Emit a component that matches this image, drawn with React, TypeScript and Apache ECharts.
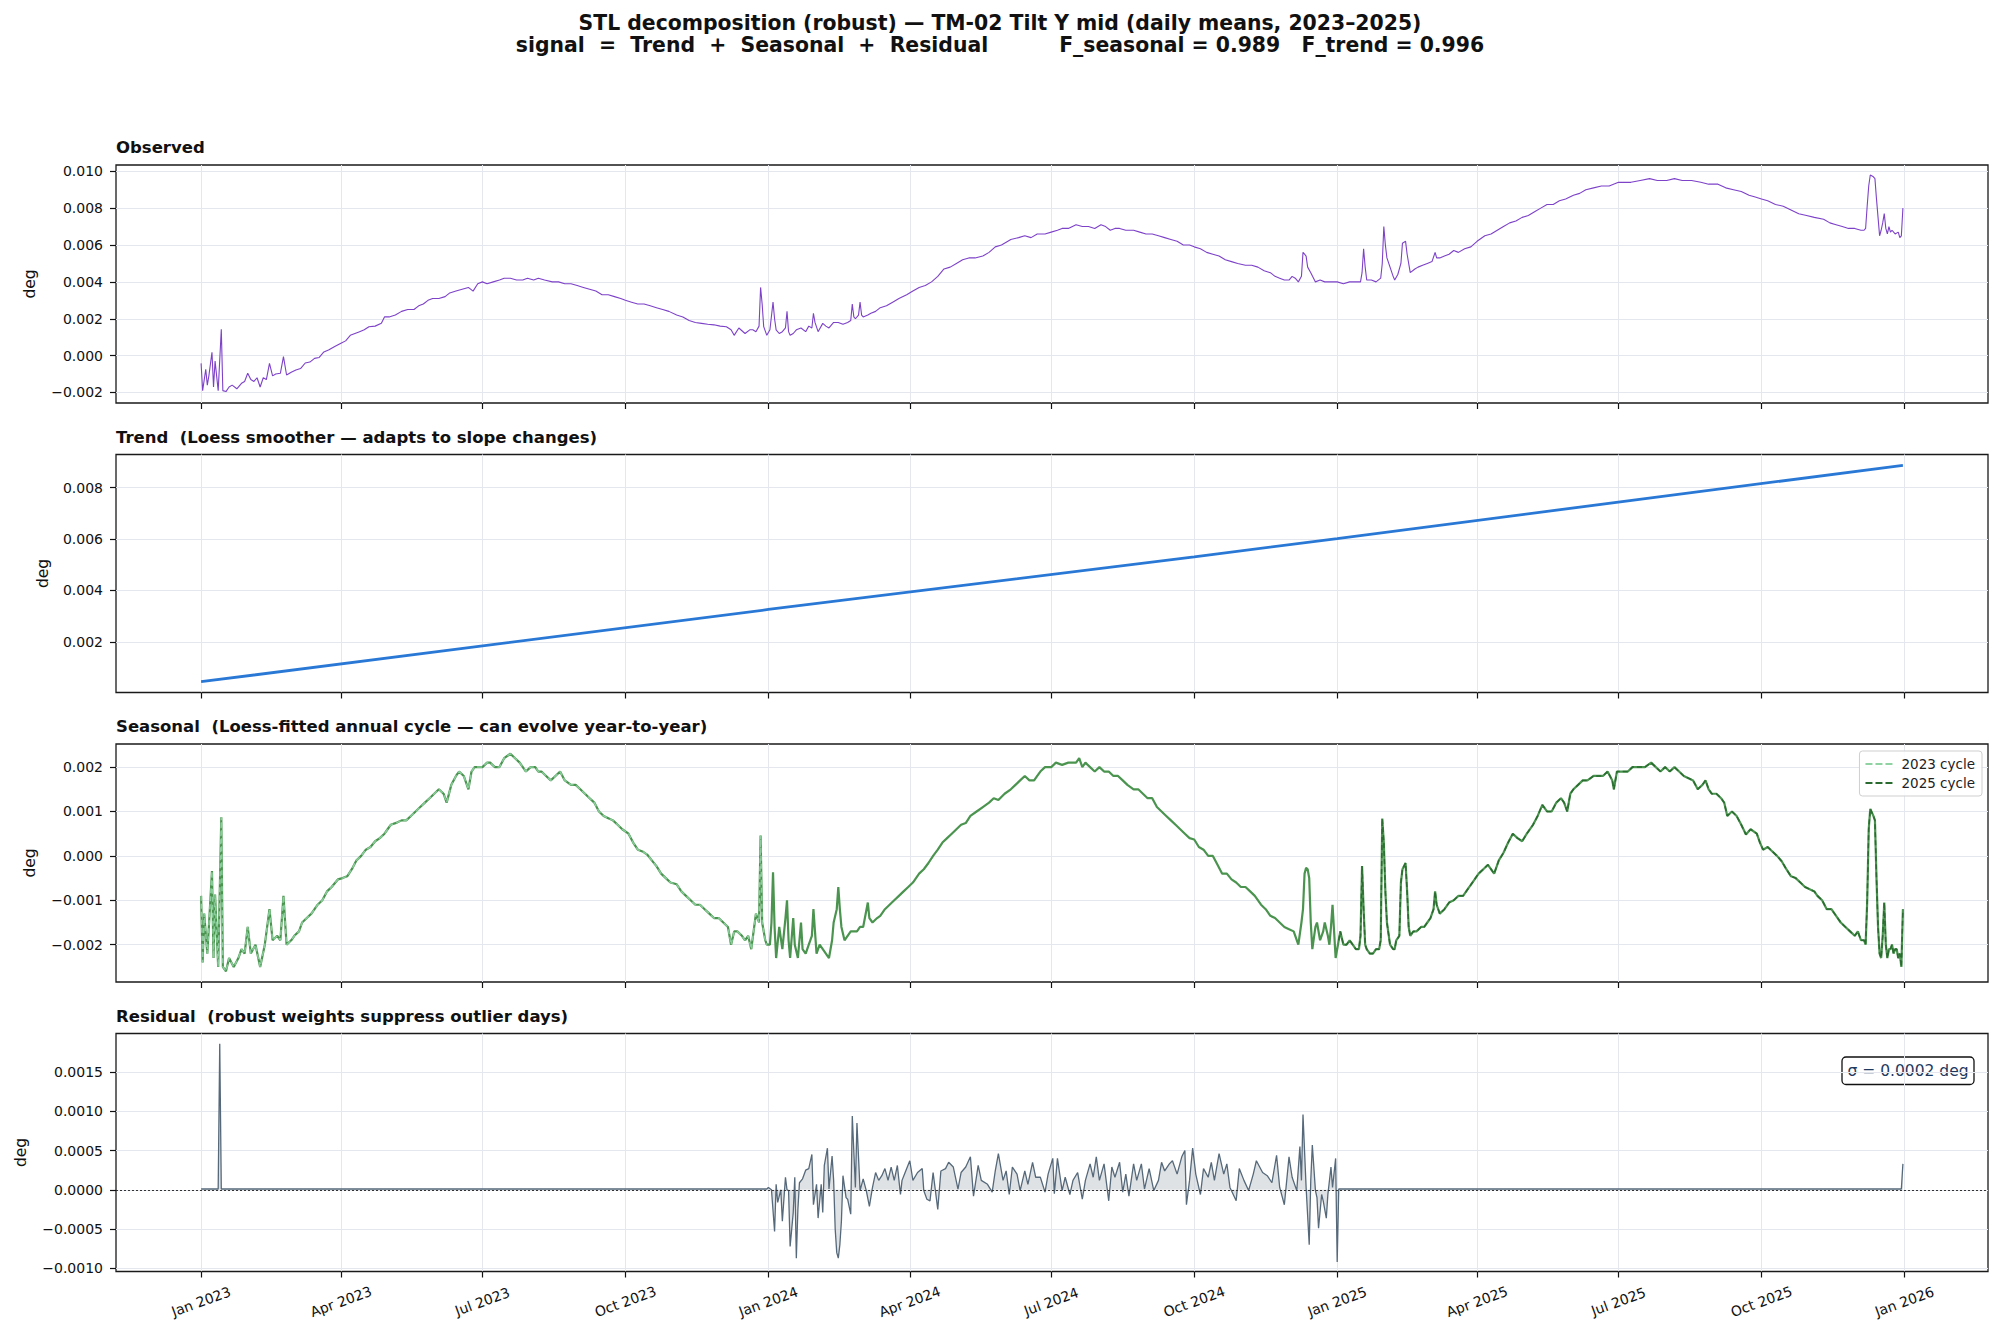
import React, { useEffect, useRef } from "react";
import * as echarts from "echarts";

// ---------- x axis (days since 2023-01-01) ----------
const tickDays = [0, 90, 181, 273, 365, 456, 547, 639, 731, 821, 912, 1004, 1096];
const tickLabels = [
  "Jan 2023", "Apr 2023", "Jul 2023", "Oct 2023",
  "Jan 2024", "Apr 2024", "Jul 2024", "Oct 2024",
  "Jan 2025", "Apr 2025", "Jul 2025", "Oct 2025", "Jan 2026",
];
const dayMin = -54.75;
const dayMax = 1149.75;

// ---------- y ticks / ranges ----------
const obsTicks = [-0.002, 0, 0.002, 0.004, 0.006, 0.008, 0.01];
const trendTicks = [0.002, 0.004, 0.006, 0.008];
const seasTicks = [-0.002, -0.001, 0, 0.001, 0.002];
const residTicks = [-0.001, -0.0005, 0, 0.0005, 0.001, 0.0015];
const obsRange = [-0.00257, 0.01034];
const trendRange = [0.00003, 0.00929];
const seasRange = [-0.00284, 0.00252];
const residRange = [-0.00104, 0.00199];

// ---------- series [day, deg] ----------
const observed: [number, number][] = [
  [0,-0.00042],[1,-0.0019],[3,-0.00074],[4,-0.0016],[5,-0.0011],[7,0.00018],[8,-0.0017],[9,-0.0003],[11,-0.0019],[13,0.00143],[14,-0.0019],[16,-0.00195],[18,-0.0017],[20,-0.0016],[23,-0.0018],[26,-0.0015],[28,-0.0014],[30,-0.00096],[32,-0.0013],[34,-0.0014],[36,-0.0012],[38,-0.0017],[40,-0.0012],[42,-0.0013],[44,-0.00042],[46,-0.0011],[48,-0.0010],[51,-0.00096],[53,-0.00005],[55,-0.00105],[58,-0.0009],[61,-0.00078],[64,-0.0007],[67,-0.0004],[70,-0.00035],[73,-0.00015],[76,-0.0001],[79,0.0002],[82,0.0003],[86,0.00049],[90,0.00067],[93,0.0008],[96,0.0011],[99,0.0012],[102,0.0013],[105,0.0014],[108,0.00157],[112,0.0016],[116,0.00175],[118,0.0021],[121,0.0021],[125,0.0022],[129,0.0024],[133,0.0025],[137,0.0025],[140,0.0027],[143,0.0028],[146,0.003],[149,0.0031],[153,0.0031],[157,0.0032],[160,0.0034],[164,0.0035],[168,0.0036],[172,0.0037],[175,0.0035],[178,0.0039],[181,0.004],[184,0.0039],[188,0.004],[192,0.0041],[195,0.0042],[199,0.0042],[203,0.0041],[207,0.0041],[210,0.0042],[214,0.0041],[217,0.0042],[221,0.0041],[226,0.004],[230,0.004],[234,0.0039],[238,0.0039],[242,0.0038],[246,0.0037],[250,0.0036],[254,0.0035],[258,0.0033],[262,0.0033],[266,0.0032],[270,0.0031],[273,0.003],[277,0.0029],[281,0.0028],[285,0.0028],[289,0.0027],[293,0.0026],[297,0.0025],[301,0.0024],[306,0.0022],[310,0.0021],[314,0.0019],[318,0.0018],[322,0.00175],[326,0.0017],[330,0.00167],[334,0.0016],[338,0.00157],[341,0.0014],[343,0.0011],[346,0.0015],[350,0.0012],[353,0.0014],[355,0.0014],[357,0.0013],[359,0.0016],[360,0.0037],[361,0.0028],[362,0.00157],[364,0.0011],[366,0.0014],[368,0.0029],[369,0.002],[370,0.0014],[372,0.0012],[374,0.0013],[376,0.0015],[377,0.0024],[378,0.0013],[379,0.0011],[381,0.0012],[383,0.0014],[386,0.0015],[389,0.0013],[391,0.0016],[393,0.0015],[394,0.0023],[395,0.0018],[397,0.0013],[400,0.00175],[402,0.0016],[404,0.0015],[407,0.0018],[410,0.0018],[413,0.0017],[416,0.0018],[418,0.0019],[419,0.0028],[420,0.0021],[421,0.002],[423,0.0022],[424,0.0029],[425,0.0022],[426,0.0021],[429,0.0022],[431,0.0023],[434,0.0024],[437,0.0026],[441,0.0027],[445,0.0029],[449,0.0031],[454,0.0033],[458,0.0035],[462,0.0037],[466,0.0038],[470,0.004],[474,0.0043],[478,0.0047],[482,0.0048],[486,0.005],[490,0.0052],[494,0.0053],[498,0.0053],[503,0.0054],[507,0.0056],[511,0.0059],[515,0.006],[521,0.0063],[526,0.0064],[530,0.0065],[534,0.0064],[538,0.0066],[543,0.0066],[547,0.0067],[551,0.0068],[554,0.0069],[558,0.0069],[563,0.0071],[567,0.007],[571,0.007],[575,0.0069],[579,0.0071],[582,0.007],[585,0.0068],[588,0.0069],[591,0.0069],[595,0.0068],[600,0.0068],[604,0.0067],[608,0.0066],[612,0.0066],[616,0.0065],[620,0.0064],[624,0.0063],[628,0.0062],[632,0.006],[636,0.006],[639,0.0059],[643,0.0058],[647,0.0056],[651,0.0055],[655,0.0054],[659,0.0052],[663,0.0051],[667,0.005],[672,0.0049],[676,0.0049],[680,0.0048],[684,0.0046],[688,0.0045],[691,0.0043],[694,0.0042],[697,0.0041],[700,0.0041],[702,0.0043],[704,0.0042],[706,0.004],[708,0.0043],[709,0.0056],[710,0.0055],[711,0.0054],[712,0.0048],[714,0.0045],[717,0.004],[720,0.0041],[723,0.004],[727,0.004],[731,0.004],[735,0.0039],[739,0.004],[742,0.004],[746,0.004],[747,0.0045],[748,0.0058],[749,0.0048],[750,0.0041],[753,0.0041],[756,0.004],[759,0.0042],[760,0.005],[761,0.007],[762,0.006],[763,0.0053],[765,0.0048],[767,0.0043],[768,0.0041],[770,0.0044],[772,0.005],[773,0.0061],[775,0.0062],[776,0.0055],[778,0.0045],[781,0.0047],[783,0.0048],[786,0.0049],[789,0.005],[792,0.0051],[794,0.0056],[795,0.0053],[797,0.0053],[800,0.0054],[803,0.0055],[806,0.0057],[809,0.0056],[813,0.0058],[817,0.0059],[821,0.0062],[826,0.0065],[830,0.0066],[834,0.0068],[838,0.007],[842,0.0072],[846,0.0073],[850,0.0075],[854,0.0076],[858,0.0078],[862,0.008],[866,0.0082],[870,0.0082],[874,0.0084],[878,0.0085],[883,0.0087],[887,0.0088],[891,0.009],[896,0.0091],[901,0.0092],[906,0.0092],[912,0.0094],[916,0.0094],[920,0.0094],[926,0.0095],[932,0.0096],[937,0.0095],[943,0.0095],[948,0.0096],[953,0.0095],[959,0.0095],[965,0.0094],[970,0.0093],[976,0.0093],[981,0.0091],[986,0.009],[991,0.0089],[996,0.0087],[1000,0.0086],[1004,0.0085],[1008,0.0084],[1013,0.0082],[1018,0.0081],[1023,0.0079],[1028,0.0077],[1033,0.0076],[1038,0.0075],[1044,0.0074],[1048,0.0072],[1052,0.0071],[1056,0.007],[1060,0.0069],[1064,0.0069],[1068,0.0068],[1070,0.0068],[1071,0.0069],[1072,0.0081],[1073,0.0092],[1074,0.0098],[1076,0.0097],[1077,0.0096],[1078,0.0085],[1079,0.0075],[1080,0.0065],[1081,0.0068],[1082,0.0072],[1083,0.0077],[1084,0.0069],[1085,0.0066],[1086,0.007],[1087,0.0067],[1088,0.0068],[1090,0.0066],[1092,0.0067],[1093,0.0064],[1094,0.0065],[1095,0.008],
];

const trend: [number, number][] = [
  [0,0.00045],[365,0.00326],[639,0.00531],[731,0.00602],[1095,0.00887],
];

const seasonal: [number, number][] = [
  [0,-0.0009],[1,-0.0024],[2,-0.0013],[4,-0.0022],[5,-0.0016],[7,-0.00034],[8,-0.0023],[9,-0.00087],[11,-0.0025],[13,0.00087],[14,-0.0025],[16,-0.0026],[18,-0.0023],[21,-0.0025],[24,-0.0023],[26,-0.0021],[28,-0.0022],[30,-0.0016],[32,-0.0022],[35,-0.002],[38,-0.0025],[41,-0.002],[44,-0.0012],[46,-0.0019],[49,-0.0018],[51,-0.0019],[53,-0.0009],[55,-0.002],[58,-0.0019],[60,-0.0018],[63,-0.0017],[65,-0.0015],[68,-0.0014],[71,-0.0013],[73,-0.0012],[75,-0.0011],[78,-0.001],[81,-0.0008],[84,-0.0007],[88,-0.00053],[91,-0.0005],[94,-0.00046],[97,-0.0003],[100,-0.0001],[103,0],[106,0.00014],[109,0.0002],[112,0.00033],[115,0.0004],[118,0.0005],[120,0.0006],[122,0.0007],[126,0.00075],[129,0.0008],[132,0.0008],[135,0.0009],[138,0.001],[141,0.0011],[144,0.0012],[147,0.0013],[150,0.0014],[153,0.0015],[156,0.0014],[158,0.0012],[161,0.0016],[164,0.0018],[166,0.0019],[169,0.0018],[172,0.0015],[174,0.0019],[176,0.002],[179,0.002],[181,0.002],[184,0.0021],[186,0.0021],[189,0.002],[192,0.002],[195,0.0022],[199,0.0023],[202,0.0022],[205,0.0021],[207,0.002],[209,0.0019],[212,0.002],[215,0.002],[217,0.0019],[219,0.0019],[222,0.0018],[225,0.0017],[228,0.0018],[231,0.0019],[234,0.0017],[238,0.0016],[241,0.0016],[244,0.0015],[247,0.0014],[250,0.0013],[253,0.0012],[256,0.001],[259,0.0009],[262,0.00085],[265,0.0008],[268,0.0007],[271,0.0006],[275,0.0005],[278,0.0003],[281,0.00014],[284,0.0001],[287,0.00003],[290,-0.0001],[293,-0.00023],[296,-0.0004],[299,-0.0005],[302,-0.0006],[306,-0.00064],[309,-0.0008],[312,-0.0009],[315,-0.001],[318,-0.0011],[321,-0.0011],[324,-0.0012],[327,-0.0013],[330,-0.0014],[333,-0.0014],[336,-0.0015],[339,-0.0016],[341,-0.002],[343,-0.0017],[345,-0.0017],[348,-0.0018],[350,-0.0019],[352,-0.0018],[354,-0.0021],[357,-0.0013],[359,-0.0015],[360,0.00046],[361,-0.0015],[363,-0.0019],
  [364,-0.002],[366,-0.002],[367,-0.0015],[368,-0.00037],[369,-0.0016],[370,-0.0023],[372,-0.0016],[374,-0.0021],[376,-0.0014],[377,-0.001],[378,-0.0019],[379,-0.0023],[381,-0.0014],[382,-0.002],[384,-0.0023],[386,-0.0015],[387,-0.0021],[389,-0.0022],[391,-0.002],[393,-0.0018],[394,-0.0012],[395,-0.0017],[396,-0.0022],[398,-0.002],[400,-0.0021],[402,-0.0022],[404,-0.0023],[406,-0.0019],[407,-0.0015],[409,-0.0012],[410,-0.0007],[411,-0.0012],[412,-0.0016],[414,-0.0019],[416,-0.0018],[418,-0.0017],[420,-0.0017],[422,-0.0017],[424,-0.0016],[426,-0.0016],[429,-0.00105],[430,-0.0014],[432,-0.0015],[435,-0.0014],[437,-0.00135],[440,-0.0012],[443,-0.0011],[446,-0.001],[449,-0.0009],[452,-0.0008],[455,-0.0007],[458,-0.0006],[462,-0.0004],[465,-0.0003],[468,-0.00016],[471,0],[474,0.00014],[477,0.0003],[480,0.0004],[483,0.0005],[486,0.0006],[489,0.0007],[492,0.00074],[495,0.0009],[499,0.001],[503,0.0011],[507,0.0012],[510,0.0013],[513,0.00126],[517,0.0014],[521,0.0015],[524,0.0016],[527,0.0017],[530,0.0018],[533,0.0017],[536,0.0017],[538,0.0018],[540,0.0019],[543,0.002],[547,0.002],[550,0.0021],[554,0.00205],[558,0.0021],[561,0.0021],[563,0.0021],[565,0.0022],[567,0.002],[569,0.0021],[572,0.002],[575,0.0019],[578,0.002],[581,0.0019],[584,0.0019],[587,0.0018],[590,0.0018],[593,0.0017],[596,0.0016],[600,0.0015],[603,0.0015],[606,0.0014],[609,0.0013],[612,0.0013],[615,0.0011],[618,0.001],[621,0.0009],[624,0.0008],[627,0.0007],[630,0.0006],[633,0.0005],[636,0.0004],[639,0.00037],[642,0.0002],[645,0.00014],[648,0],[651,0],[654,-0.0002],[657,-0.0004],[660,-0.0004],[663,-0.00053],[666,-0.0006],[669,-0.0007],[672,-0.0007],[675,-0.0008],[678,-0.0009],[682,-0.0011],[685,-0.0012],[688,-0.00135],[691,-0.0014],[694,-0.0015],[697,-0.0016],[700,-0.00165],[703,-0.0017],[706,-0.002],[708,-0.0015],[709,-0.0012],[710,-0.0004],[711,-0.00027],[712,-0.0003],[713,-0.0005],[714,-0.0015],[715,-0.0021],[717,-0.0016],[718,-0.0015],[720,-0.0019],[722,-0.0017],[723,-0.0015],[725,-0.0018],[726,-0.002],[727,-0.0016],[728,-0.0011],[729,-0.0017],[730,-0.0023],
  [732,-0.0019],[733,-0.0017],[735,-0.002],[737,-0.002],[739,-0.0019],[741,-0.002],[743,-0.0021],[745,-0.0021],[746,-0.0018],[747,-0.00023],[748,-0.0012],[749,-0.002],[750,-0.0021],[752,-0.0022],[754,-0.0022],[756,-0.0021],[758,-0.0021],[759,-0.0019],[760,0.00084],[761,0.0003],[762,-0.0008],[763,-0.0015],[765,-0.002],[767,-0.0021],[768,-0.0021],[769,-0.0019],[771,-0.0018],[772,-0.0006],[773,-0.0003],[775,-0.00016],[776,-0.0008],[777,-0.0016],[778,-0.0018],[780,-0.0017],[782,-0.0017],[785,-0.0016],[787,-0.0016],[789,-0.0015],[791,-0.0014],[793,-0.0012],[794,-0.0008],[795,-0.0011],[797,-0.0013],[800,-0.0012],[803,-0.00105],[806,-0.001],[809,-0.0009],[812,-0.0009],[815,-0.00075],[818,-0.0006],[822,-0.0004],[825,-0.0003],[828,-0.0002],[832,-0.0004],[835,-0.0001],[838,0.00007],[841,0.0003],[844,0.0005],[847,0.0004],[850,0.00033],[853,0.0005],[857,0.0007],[860,0.0009],[863,0.00115],[866,0.001],[869,0.001],[872,0.0012],[875,0.0013],[877,0.0012],[879,0.001],[881,0.0014],[883,0.0015],[886,0.0016],[889,0.0017],[892,0.0017],[896,0.0018],[899,0.0018],[902,0.0018],[905,0.0019],[908,0.0017],[909,0.0015],[911,0.0019],[912,0.0019],[915,0.0019],[918,0.0019],[921,0.002],[925,0.002],[929,0.002],[933,0.0021],[936,0.002],[939,0.0019],[942,0.002],[945,0.0019],[948,0.002],[951,0.0019],[954,0.0018],[957,0.00175],[960,0.0017],[963,0.0015],[966,0.0016],[968,0.0017],[970,0.0015],[972,0.0014],[975,0.0014],[978,0.0013],[980,0.0012],[982,0.0009],[985,0.001],[988,0.0009],[991,0.0007],[994,0.00048],[997,0.0006],[1001,0.0005],[1003,0.0003],[1005,0.00014],[1008,0.0002],[1011,0.0001],[1014,0],[1017,-0.00012],[1020,-0.0003],[1023,-0.00046],[1026,-0.0005],[1029,-0.0006],[1032,-0.0007],[1035,-0.00075],[1038,-0.0008],[1040,-0.0009],[1043,-0.001],[1046,-0.0012],[1049,-0.0012],[1052,-0.00135],[1055,-0.0015],[1058,-0.0016],[1061,-0.0017],[1064,-0.0018],[1066,-0.0017],[1068,-0.0019],[1070,-0.0019],[1071,-0.002],[1072,-0.00105],[1073,0.0006],[1074,0.00106],[1076,0.0009],[1077,0.0008],[1078,-0.0005],[1079,-0.0016],[1080,-0.0022],[1081,-0.0023],[1082,-0.0018],[1083,-0.00105],[1084,-0.002],[1085,-0.0023],[1086,-0.0021],[1087,-0.0021],[1088,-0.002],[1089,-0.0022],[1090,-0.0021],[1091,-0.0021],[1092,-0.0023],[1093,-0.0022],[1094,-0.0025],[1095,-0.0012],
];

const residual: [number, number][] = [
  [0,0.00001],[11,0.00001],[12,0.00186],[13,0.00001],[364,0.00001],
  [365,0.00003],[367,0],[369,-0.00053],[370,0.00007],[371,-0.00016],[373,0],[374,-0.0004],[376,0.00016],[377,0],[378,-0.00001],[379,-0.00072],[381,-0.00029],[382,0.00016],[383,-0.00087],[384,-0.00025],[385,0.00009],[387,0.00014],[389,0.00025],[391,0.00027],[393,0.00045],[394,-0.00019],[396,0.00007],[397,-0.00036],[399,0.00007],[400,-0.00029],[401,0.00031],[403,0.00053],[404,0.00001],[406,0.00043],[407,0.00012],[408,-0.0005],[409,-0.0008],[410,-0.00087],[411,-0.0007],[412,-0.0004],[413,0.00018],[415,-0.0001],[416,-0.00012],[418,-0.00031],[419,0.00094],[421,0.00003],[422,0.00085],[424,-0.00001],[426,0.00014],[428,-0.00001],[430,-0.00021],[432,0.00003],[434,0.00022],[436,0.00012],[438,0.00018],[440,0.00027],[442,0.00012],[444,0.00029],[446,0.00012],[448,0.00031],[450,-0.00006],[451,0.00012],[453,0.00022],[456,0.00037],[458,0.00012],[461,0.00022],[464,0.00027],[465,-0.00001],[467,-0.00012],[469,-0.00014],[471,0.00022],[474,-0.00025],[476,0.00024],[479,0.00027],[481,0.00035],[484,0.00029],[487,0.00001],[489,0.00022],[492,0.00029],[495,0.00042],[497,-0.00008],[500,0.00031],[502,0.00012],[506,0.00007],[509,-0.00003],[511,0.00024],[513,0.00046],[516,0.00012],[518,0.00024],[520,-0.00006],[522,0.00029],[525,0.0002],[527,-0.00001],[530,0.00024],[532,0.00007],[535,0.00035],[537,0.00016],[540,0.00016],[543,-0.00003],[545,0.0002],[548,0.0004],[549,-0.00005],[551,0.0004],[554,-0.00001],[556,0.00016],[559,-0.00006],[561,0.00012],[564,0.00022],[567,-0.00012],[569,0.00012],[572,0.00033],[574,0.00016],[576,0.00042],[578,0.00012],[581,0.00033],[584,-0.00014],[586,0.00029],[588,0.00016],[591,0.00035],[593,-0.00003],[595,0.0002],[597,-0.00008],[600,0.00033],[602,0.00012],[605,0.00033],[607,0.00001],[610,0.00027],[613,-0.00001],[616,0.00012],[618,0.00035],[620,0.00024],[623,0.00033],[625,0.00037],[628,0.0002],[631,0.00042],[633,0.0005],[634,-0.00019],[636,0.00012],[638,0.00053],[640,0.0002],[643,-0.00006],[645,0.00027],[648,0.00016],[650,0.00035],[652,0.00012],[655,0.00046],[658,0.0002],[660,0.00033],[662,0.00003],[666,-0.00014],[668,0.00027],[671,0.00012],[674,-0.00001],[677,0.0002],[679,0.00037],[683,0.00022],[686,0.00018],[689,0.00009],[692,0.00044],[694,0.00003],[697,-0.00019],[700,0.00042],[702,0.00016],[705,-0.00001],[707,0.00055],[708,0.00012],[709,0.00096],[711,0.00003],[713,-0.0007],[714,0.00012],[715,0.00057],[717,-0.00001],[718,-0.0001],[719,-0.00049],[721,-0.00006],[722,-0.00014],[724,-0.00036],[725,-0.00006],[727,0.00029],[728,0.00003],[730,0.0004],[731,-0.00092],[732,0.00001],
  [1094,0.00001],[1095,0.00033],
];

const cycle2023 = seasonal.filter(([d]) => d <= 364);
const cycle2025 = seasonal.filter(([d]) => d >= 731);

// ---------- layout ----------
const W = 2000;
const H = 1334;
const PLOT_LEFT = 116;
const PLOT_WIDTH = 1872;
const PANEL_TOPS = [165, 454.5, 744, 1033.5];
const PANEL_H = 238;
const FONT = "'DejaVu Sans', 'Liberation Sans', sans-serif";
const INK = "#111";
const DASH_ICON = "path://M0 0h7v2H0zM10 0h7v2h-7zM20 0h7v2h-7z";

const fmt = (d: number) => (v: number) => {
  const s = Math.abs(v).toFixed(d);
  return (v < -1e-12 ? "\u2212" : "") + s;
};

function xAxisFor(i: number, showLabels: boolean) {
  return {
    type: "value",
    gridIndex: i,
    min: dayMin,
    max: dayMax,
    position: "bottom",
    axisLine: { show: false, onZero: false },
    axisTick: {
      show: true,
      length: 6,
      customValues: tickDays,
      lineStyle: { color: INK, width: 1.2 },
    },
    splitLine: { show: true, lineStyle: { color: "#e5e7ee", width: 1 } },
    axisLabel: showLabels
      ? {
          show: true,
          customValues: tickDays,
          formatter: (v: number) => {
            const k = tickDays.indexOf(Math.round(v));
            return k >= 0 ? tickLabels[k] : "";
          },
          rotate: 20,
          align: "center",
          verticalAlign: "middle",
          margin: 30,
          fontSize: 14,
          fontFamily: FONT,
          color: INK,
        }
      : { show: false, customValues: tickDays },
  };
}

function yAxisFor(i: number, range: number[], ticks: number[], dec: number) {
  return {
    type: "value",
    gridIndex: i,
    min: range[0],
    max: range[1],
    position: "left",
    axisLine: { show: false, onZero: false },
    axisTick: {
      show: true,
      length: 6,
      customValues: ticks,
      lineStyle: { color: INK, width: 1.2 },
    },
    splitLine: { show: true, lineStyle: { color: "#e5e7ee", width: 1 } },
    axisLabel: {
      show: true,
      customValues: ticks,
      formatter: fmt(dec),
      margin: 13,
      fontSize: 14,
      fontFamily: FONT,
      color: INK,
    },
  };
}

const panelTitles = [
  "Observed",
  "Trend  (Loess smoother \u2014 adapts to slope changes)",
  "Seasonal  (Loess-fitted annual cycle \u2014 can evolve year-to-year)",
  "Residual  (robust weights suppress outlier days)",
];
const degX = [30, 43, 30, 21];

export default function App() {
  const ref = useRef<HTMLDivElement>(null);

  useEffect(() => {
    if (!ref.current) return;
    const chart = echarts.init(ref.current, undefined, { renderer: "svg", width: W, height: H });

    const graphic: any[] = [
      {
        type: "text",
        x: W / 2,
        y: 22.9,
        style: {
          text: "STL decomposition (robust) \u2014 TM-02 Tilt Y mid (daily means, 2023\u20132025)",
          fontSize: 20.4,
          fontWeight: "bold",
          fontFamily: FONT,
          fill: INK,
          align: "center",
          verticalAlign: "middle",
        },
      },
      {
        type: "text",
        x: W / 2,
        y: 44.6,
        style: {
          text: "signal  =  Trend  +  Seasonal  +  Residual          F_seasonal = 0.989   F_trend = 0.996",
          fontSize: 20.4,
          fontWeight: "bold",
          fontFamily: FONT,
          fill: INK,
          align: "center",
          verticalAlign: "middle",
        },
      },
    ];
    panelTitles.forEach((t, i) => {
      graphic.push({
        type: "text",
        x: PLOT_LEFT,
        y: PANEL_TOPS[i] - 17.4,
        style: {
          text: t,
          fontSize: 16.5,
          fontWeight: "bold",
          fontFamily: FONT,
          fill: INK,
          align: "left",
          verticalAlign: "middle",
        },
      });
      graphic.push({
        type: "text",
        x: degX[i],
        y: PANEL_TOPS[i] + PANEL_H / 2,
        rotation: Math.PI / 2,
        style: {
          text: "deg",
          fontSize: 15.5,
          fontFamily: FONT,
          fill: INK,
          align: "center",
          verticalAlign: "middle",
        },
      });
    });
    graphic.push({
      type: "group",
      z: 100,
      children: [
        {
          type: "rect",
          shape: { x: 1842, y: 1057, width: 132, height: 27.5, r: 4 },
          style: { fill: "#ffffff", stroke: "#111", lineWidth: 1.3 },
        },
        {
          type: "text",
          x: 1908,
          y: 1071,
          style: {
            text: "\u03c3 = 0.0002 deg",
            fontSize: 15.5,
            fontFamily: FONT,
            fill: "#1f3a5f",
            align: "center",
            verticalAlign: "middle",
          },
        },
      ],
    });

    const option: any = {
      animation: false,
      backgroundColor: "#ffffff",
      textStyle: { fontFamily: FONT },
      grid: PANEL_TOPS.map((top) => ({
        left: PLOT_LEFT,
        top,
        width: PLOT_WIDTH,
        height: PANEL_H,
        show: true,
        borderColor: "#1a1a1a",
        borderWidth: 1.3,
        backgroundColor: "transparent",
        containLabel: false,
        outerBoundsMode: "none",
      })),
      xAxis: [xAxisFor(0, false), xAxisFor(1, false), xAxisFor(2, false), xAxisFor(3, true)],
      yAxis: [
        yAxisFor(0, obsRange, obsTicks, 3),
        yAxisFor(1, trendRange, trendTicks, 3),
        yAxisFor(2, seasRange, seasTicks, 3),
        yAxisFor(3, residRange, residTicks, 4),
      ],
      legend: {
        data: [
          { name: "2023 cycle", icon: DASH_ICON, itemStyle: { color: "#8fd3a2" } },
          { name: "2025 cycle", icon: DASH_ICON, itemStyle: { color: "#2a6b30" } },
        ],
        orient: "vertical",
        right: 18,
        top: 751,
        itemWidth: 27,
        itemHeight: 2,
        itemGap: 5,
        padding: [6, 7, 6, 6],
        backgroundColor: "rgba(255,255,255,0.85)",
        borderColor: "#cfcfcf",
        borderWidth: 1,
        borderRadius: 3,
        textStyle: { fontSize: 13.5, fontFamily: FONT, color: "#222", padding: [0, 0, 0, 4] },
      },
      graphic,
      series: [
        {
          name: "Observed",
          type: "line",
          xAxisIndex: 0,
          yAxisIndex: 0,
          data: observed,
          showSymbol: false,
          symbol: "none",
          lineStyle: { color: "#7d42c8", width: 1.1 },
        },
        {
          name: "Trend",
          type: "line",
          xAxisIndex: 1,
          yAxisIndex: 1,
          data: trend,
          showSymbol: false,
          symbol: "none",
          lineStyle: { color: "#2a78d6", width: 2.8 },
        },
        {
          name: "Seasonal",
          type: "line",
          xAxisIndex: 2,
          yAxisIndex: 2,
          data: seasonal,
          showSymbol: false,
          symbol: "none",
          lineStyle: { color: "#4b944f", width: 2.2 },
        },
        {
          name: "2023 cycle",
          type: "line",
          xAxisIndex: 2,
          yAxisIndex: 2,
          data: cycle2023,
          showSymbol: false,
          symbol: "none",
          itemStyle: { color: "#8fd3a2" },
          lineStyle: { color: "#8fd3a2", width: 1.5, type: [5, 3], opacity: 0.9 },
        },
        {
          name: "2025 cycle",
          type: "line",
          xAxisIndex: 2,
          yAxisIndex: 2,
          data: cycle2025,
          showSymbol: false,
          symbol: "none",
          itemStyle: { color: "#2a6b30" },
          lineStyle: { color: "#2a6b30", width: 1.5, type: [5, 3] },
        },
        {
          name: "Residual",
          type: "line",
          xAxisIndex: 3,
          yAxisIndex: 3,
          data: residual,
          showSymbol: false,
          symbol: "none",
          lineStyle: { color: "#56697a", width: 1.3 },
          areaStyle: { color: "#c5cad0", opacity: 0.55 },
          markLine: {
            silent: true,
            symbol: ["none", "none"],
            label: { show: false },
            lineStyle: { color: "#333", width: 1, type: [2, 2] },
            data: [{ yAxis: 0 }],
          },
        },
      ],
    };

    chart.setOption(option);
    return () => chart.dispose();
  }, []);

  return (
    <div
      ref={ref}
      style={{ position: "fixed", left: 0, top: 0, width: W, height: H, background: "#fff" }}
    />
  );
}
